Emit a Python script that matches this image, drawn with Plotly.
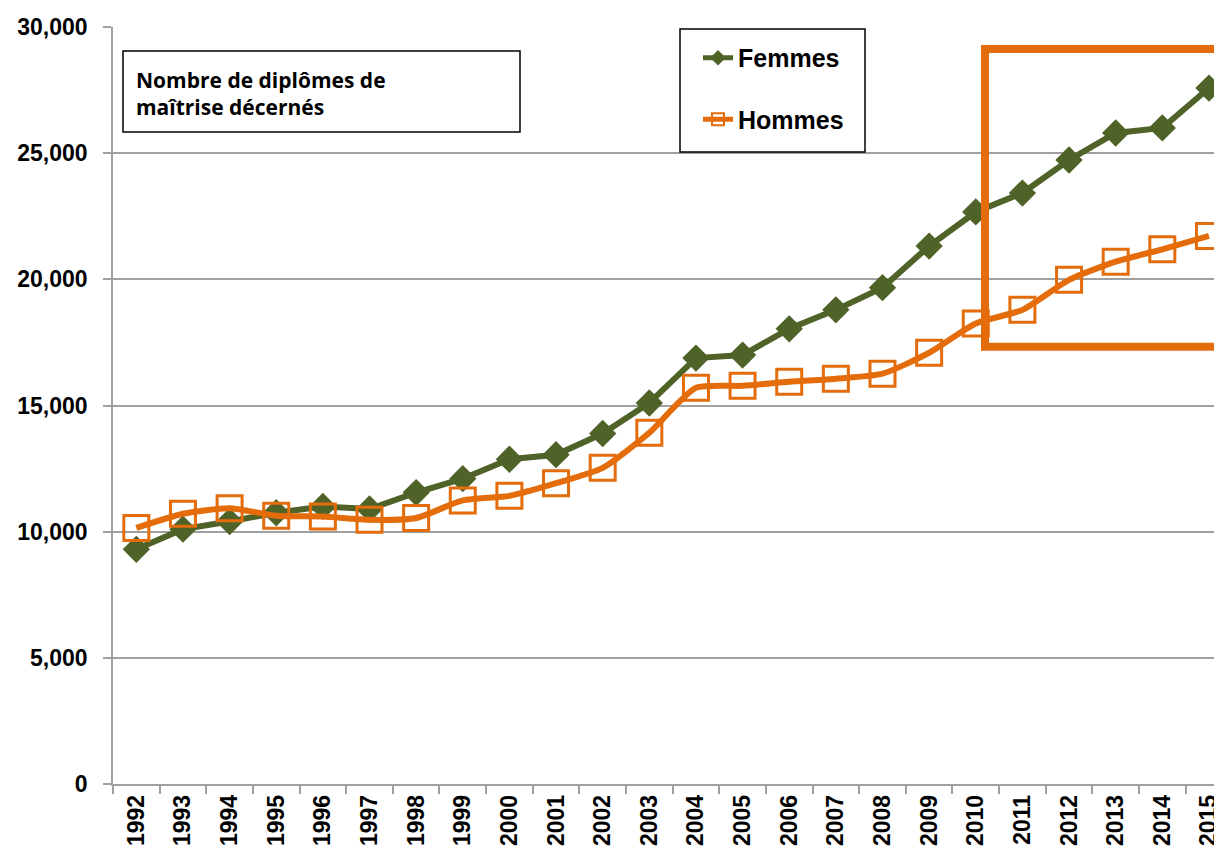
import plotly.graph_objects as go

years = [str(y) for y in range(1992, 2016)]
femmes = [9300, 10100, 10400, 10750, 11000, 10900, 11550, 12100, 12870, 13050,
          13890, 15100, 16880, 17000, 18040, 18790, 19670, 21320, 22670, 23420,
          24730, 25800, 26000, 27580]
hommes = [10150, 10710, 10930, 10630, 10600, 10470, 10540, 11240, 11420, 11920,
          12530, 13920, 15700, 15780, 15940, 16060, 16260, 17090, 18250, 18790,
          19980, 20700, 21190, 21720]
y_ticks = [0, 5000, 10000, 15000, 20000, 25000, 30000]

GREEN = "#4F6228"
ORANGE = "#E46C0A"
FONT = "Liberation Sans"
GRID = "#A0A0A0"

OFF = 8  # page body margin
W, H = 1222, 855 - 2 * OFF
AXIS_Y = 784.5
RIGHT_EDGE = 1230  # screen x where the plot area ends (beyond the window)
L, T = 113 - OFF, 27 - OFF
R = W + OFF - RIGHT_EDGE
B = H - (AXIS_Y - OFF)
pw, ph = W - L - R, H - T - B
x_right = (RIGHT_EDGE - 136) / 46.65

def px(x):
    return (x - OFF - L) / pw

def py(y):
    return (H - B - (y - OFF)) / ph

fig = go.Figure()
fig.add_trace(go.Scatter(
    x=years, y=femmes, name="Femmes", mode="lines+markers",
    line=dict(color=GREEN, width=6),
    marker=dict(symbol="diamond", size=21, color=GREEN),
    legendgroup="f",
))
fig.add_trace(go.Scatter(
    x=years, y=hommes, name="Hommes", mode="lines+markers",
    line=dict(color=ORANGE, width=6, shape="spline", smoothing=0.6),
    marker=dict(symbol="square-open", size=25, color=ORANGE, line=dict(color=ORANGE, width=3)),
    legendgroup="h",
))

fig.update_layout(
    width=W, height=H,
    margin=dict(l=L, r=R, t=T, b=B, autoexpand=False),
    paper_bgcolor="white", plot_bgcolor="white",
    font=dict(family=FONT, color="black"),
    legend=dict(
        x=px(698), y=py(35), xanchor="left", yanchor="top",
        borderwidth=0, bgcolor="rgba(0,0,0,0)",
        font=dict(size=25, family=FONT, color="black", weight="bold"),
        tracegroupgap=26, itemsizing="constant",
    ),
    xaxis=dict(
        type="category", range=[-0.5, x_right],
        showgrid=False, showline=True, linecolor=GRID, linewidth=1.5,
        ticks="outside", tickson="boundaries", ticklen=8, tickcolor=GRID, tickwidth=1.5,
        tickangle=-90, tickfont=dict(size=23, family=FONT, weight="bold"),
    ),
    yaxis=dict(
        range=[0, 30000], tickvals=y_ticks, tickformat=",",
        showgrid=True, gridcolor=GRID, gridwidth=1.5,
        showline=True, linecolor=GRID, linewidth=1.5, zeroline=False,
        ticks="outside", ticklen=8, tickcolor=GRID, tickwidth=1.5,
        ticklabelstandoff=11,
        tickfont=dict(size=23, family=FONT, weight="bold"),
    ),
)

# Title text box
fig.add_shape(type="rect", xref="paper", yref="paper",
              x0=px(123), x1=px(520), y0=py(132), y1=py(51),
              line=dict(color="black", width=1.5), fillcolor="white", layer="above")
fig.add_annotation(xref="paper", yref="paper", x=px(134), y=py(94),
                   xanchor="left", yanchor="middle", align="left", showarrow=False,
                   text="Nombre de diplômes de<br>maîtrise décernés",
                   font=dict(size=21, family="Open Sans", color="black", weight="bold"))

# Legend box
fig.add_shape(type="rect", xref="paper", yref="paper",
              x0=px(680), x1=px(865), y0=py(152), y1=py(29),
              line=dict(color="black", width=1.5), fillcolor="white", layer="above")

# Orange highlight rectangle
fig.add_shape(type="rect", xref="paper", yref="paper",
              x0=px(985), x1=1.05, y0=py(347), y1=py(49),
              line=dict(color=ORANGE, width=8), layer="above")

fig.write_html("out.html")
